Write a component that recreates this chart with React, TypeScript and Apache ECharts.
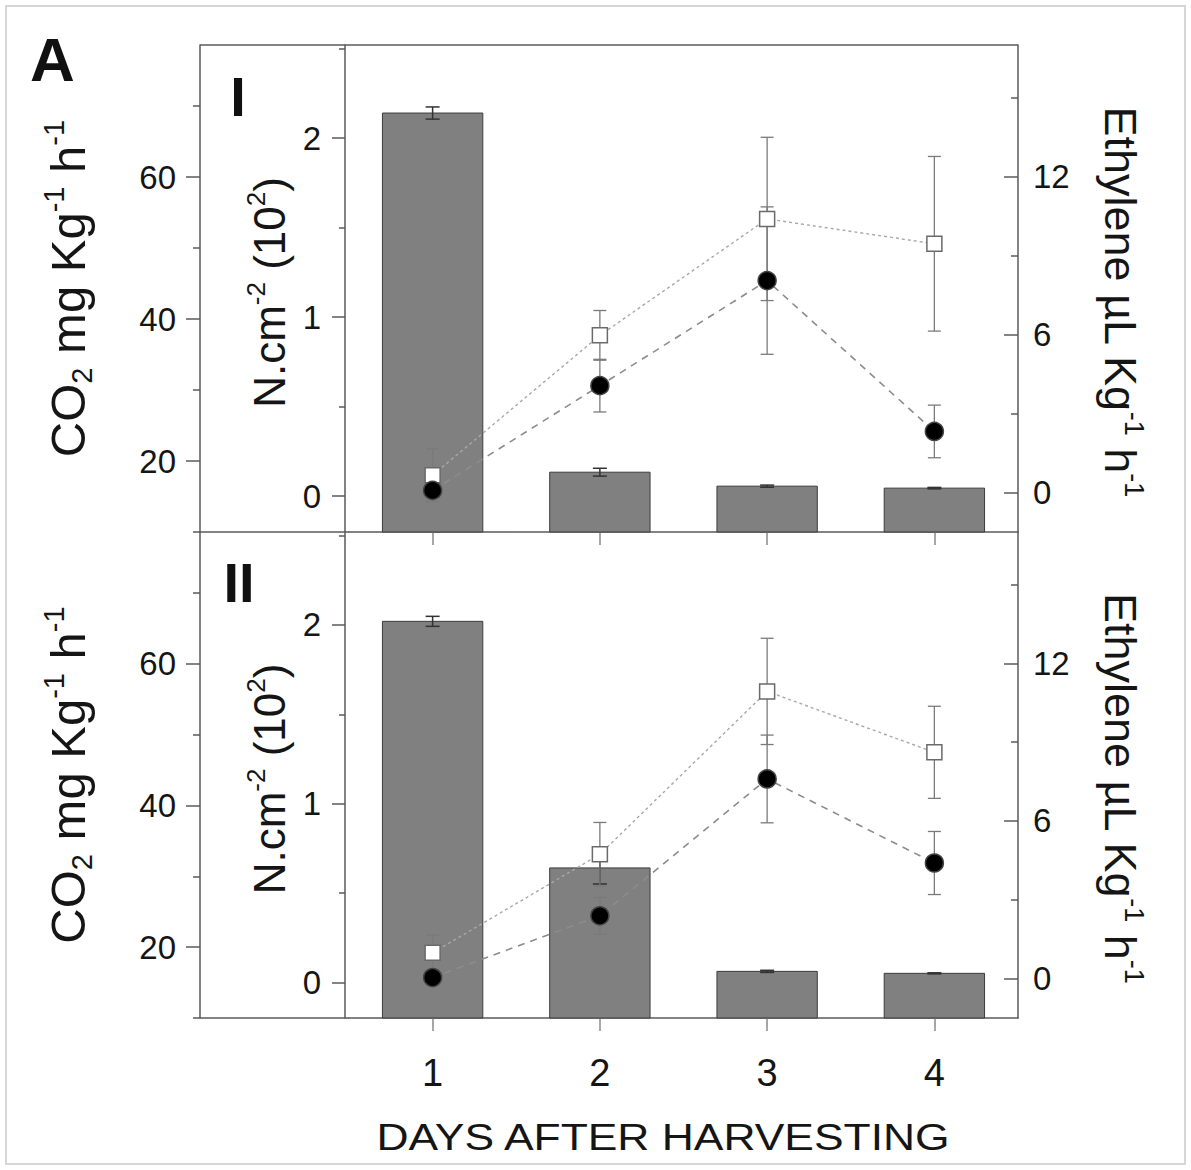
import React, { useEffect, useRef } from 'react';
import * as echarts from 'echarts';

// ---------- data ----------
const days = ['1', '2', '3', '4'];

// Panel I
const firmI = [2.14, 0.134, 0.056, 0.045];
const firmErrI = [0.034, 0.022, 0.006, 0.004];
const co2I = [18.0, 37.7, 54.1, 50.6];
const co2ErrI = [3.7, 3.5, 11.5, 12.3];
const ethI = [0.08, 4.06, 8.05, 2.32];
const ethErrI = [0.42, 1.0, 2.8, 1.0];

// Panel II
const firmII = [2.02, 0.64, 0.061, 0.05];
const firmErrII = [0.028, 0.09, 0.006, 0.003];
const co2II = [19.2, 33.1, 56.1, 47.5];
const co2ErrII = [2.5, 4.5, 7.5, 6.5];
const ethII = [0.04, 2.39, 7.6, 4.4];
const ethErrII = [0.3, 0.7, 1.67, 1.2];

// tick values
const co2Ticks = [20, 40, 60];
const co2Minor = [10, 30, 50, 70];
const firmTicks = [0, 1, 2];
const firmMinor = [0.5, 1.5, 2.5];
const ethTicks = [0, 6, 12];
const ethMinor = [3, 9, 15];

const panelLabels = ['I', 'II'];

// ---------- layout / style ----------
const W = 1191;
const H = 1170;
const L_OUT = 200;
const L_AX = 345;
const L_IN = 349;
const R = 1018;
const T = 45;
const MID = 532;
const B = 1018;
const FONT = "'Liberation Sans', Arial, Helvetica, sans-serif";
const AX = '#5a5a5a';
const TXT = '#151515';

const mkRich = (size: number, supSize: number) => ({
  m: { fontSize: size, fontFamily: FONT, color: TXT, lineHeight: size + 8 },
  sup: { fontSize: supSize, fontFamily: FONT, color: TXT, verticalAlign: 'top', lineHeight: supSize + 5 },
  sub: { fontSize: supSize, fontFamily: FONT, color: TXT, verticalAlign: 'bottom', lineHeight: supSize - 1 },
});

const errRender = (color: string, cap: number, width: number) => (params: any, api: any) => {
  const i = api.value(0);
  const lo = api.coord([i, api.value(1)]);
  const hi = api.coord([i, api.value(2)]);
  const h = cap / 2;
  const style = { stroke: color, lineWidth: width };
  return {
    type: 'group',
    children: [
      { type: 'line', shape: { x1: lo[0], y1: lo[1], x2: hi[0], y2: hi[1] }, style },
      { type: 'line', shape: { x1: lo[0] - h, y1: lo[1], x2: lo[0] + h, y2: lo[1] }, style },
      { type: 'line', shape: { x1: hi[0] - h, y1: hi[1], x2: hi[0] + h, y2: hi[1] }, style },
    ],
  };
};

// bars drawn from the bottom of the plot frame (as in the original figure)
const barRender = (params: any, api: any) => {
  const i = api.value(0);
  const top = api.coord([i, api.value(1)]);
  const band = api.size([1, 0])[0];
  const w = band * 0.6;
  const cs = params.coordSys;
  const bottom = cs.y + cs.height;
  return {
    type: 'rect',
    shape: { x: top[0] - w / 2, y: top[1], width: w, height: bottom - top[1] },
    style: { fill: '#808080', stroke: '#3c3c3c', lineWidth: 1 },
  };
};

const errData = (vals: number[], errs: number[]) => vals.map((v, i) => [i, v - errs[i], v + errs[i]]);

function buildOption() {
  const panels = [
    { firm: firmI, firmErr: firmErrI, co2: co2I, co2Err: co2ErrI, eth: ethI, ethErr: ethErrI },
    { firm: firmII, firmErr: firmErrII, co2: co2II, co2Err: co2ErrII, eth: ethII, ethErr: ethErrII },
  ];

  const grid = [
    { left: L_IN, width: R - L_IN, top: T, height: MID - T },
    { left: L_IN, width: R - L_IN, top: MID, height: B - MID },
  ];

  const xAxis: any[] = [0, 1].map((p) => ({
    type: 'category',
    gridIndex: p,
    data: days,
    boundaryGap: true,
    axisLine: { show: true, onZero: false, lineStyle: { color: AX, width: 1.5 } },
    axisTick: { show: true, alignWithLabel: true, length: 13, inside: false, lineStyle: { color: '#8a8a8a', width: 1.5 } },
    axisLabel: { show: p === 1, fontSize: 38, fontFamily: FONT, color: TXT, margin: 36 },
    splitLine: { show: false },
  }));

  const yAxis: any[] = [];
  const mk = (p: number, o: any) => ({
    type: 'value',
    gridIndex: p,
    splitLine: { show: false },
    ...o,
  });
  const tickFont = { fontSize: 33, fontFamily: FONT, color: TXT };
  [0, 1].forEach((p) => {
    // firmness (N.cm-2)
    yAxis.push(
      mk(p, {
        position: 'left',
        offset: L_IN - L_AX,
        min: -0.2,
        max: 2.52,
        axisLine: { show: true, lineStyle: { color: AX, width: 1.5 } },
        axisTick: { show: true, customValues: firmTicks, length: 13, lineStyle: { color: AX, width: 1.5 } },
        axisLabel: { show: true, customValues: firmTicks, ...tickFont, margin: 24 },
        name: '{m|N.cm}{sup|-2}{m| (10}{sup|2}{m|)}',
        nameLocation: 'middle',
        nameRotate: 90,
        nameGap: 50,
        nameTextStyle: { rich: mkRich(44, 26), padding: [0, 8, 0, 0] },
      })
    );
    yAxis.push(
      mk(p, {
        position: 'left',
        offset: L_IN - L_AX,
        min: -0.2,
        max: 2.52,
        axisLine: { show: false },
        axisTick: { show: true, customValues: firmMinor, length: 6, lineStyle: { color: AX, width: 1.5 } },
        axisLabel: { show: false },
      })
    );
    // CO2
    yAxis.push(
      mk(p, {
        position: 'left',
        offset: L_IN - L_OUT,
        min: 10,
        max: 78.6,
        axisLine: { show: true, lineStyle: { color: AX, width: 1.5 } },
        axisTick: { show: true, customValues: co2Ticks, length: 14, lineStyle: { color: AX, width: 1.5 } },
        axisLabel: { show: true, customValues: co2Ticks, ...tickFont, margin: 24 },
        name: '{m|CO}{sub|2}{m| mg Kg}{sup|-1}{m| h}{sup|-1}',
        nameLocation: 'middle',
        nameRotate: 90,
        nameGap: 104,
        nameTextStyle: { rich: mkRich(49, 29) },
      })
    );
    yAxis.push(
      mk(p, {
        position: 'left',
        offset: L_IN - L_OUT,
        min: 10,
        max: 78.6,
        axisLine: { show: false },
        axisTick: { show: true, customValues: co2Minor, length: 7, lineStyle: { color: AX, width: 1.5 } },
        axisLabel: { show: false },
      })
    );
    // Ethylene
    yAxis.push(
      mk(p, {
        position: 'right',
        min: -1.5,
        max: 17,
        axisLine: { show: true, lineStyle: { color: AX, width: 1.5 } },
        axisTick: { show: true, inside: true, customValues: ethTicks, length: 14, lineStyle: { color: AX, width: 1.5 } },
        axisLabel: { show: true, customValues: ethTicks, ...tickFont, margin: 15 },
        name: '{m|Ethylene µL Kg}{sup|-1}{m| h}{sup|-1}',
        nameLocation: 'middle',
        nameRotate: -90,
        nameGap: 76,
        nameTextStyle: { rich: mkRich(45, 27), padding: [0, 0, 0, 26] },
      })
    );
    yAxis.push(
      mk(p, {
        position: 'right',
        min: -1.5,
        max: 17,
        axisLine: { show: false },
        axisTick: { show: true, inside: true, customValues: ethMinor, length: 7, lineStyle: { color: AX, width: 1.5 } },
        axisLabel: { show: false },
      })
    );
  });

  const series: any[] = [];
  panels.forEach((pd, p) => {
    const yFirm = p * 6;
    const yCo2 = p * 6 + 2;
    const yEth = p * 6 + 4;
    series.push({
      type: 'custom',
      name: 'firmness',
      xAxisIndex: p,
      yAxisIndex: yFirm,
      renderItem: barRender,
      data: pd.firm.map((v, i) => [i, v]),
      encode: { x: 0, y: 1 },
      z: 1,
    });
    series.push({
      type: 'custom',
      xAxisIndex: p,
      yAxisIndex: yFirm,
      renderItem: errRender('#333333', 14, 1.5),
      data: errData(pd.firm, pd.firmErr),
      encode: { x: 0, y: [1, 2] },
      z: 2,
    });
    series.push({
      type: 'custom',
      xAxisIndex: p,
      yAxisIndex: yCo2,
      renderItem: errRender('#7a7a7a', 13, 1.3),
      data: errData(pd.co2, pd.co2Err),
      encode: { x: 0, y: [1, 2] },
      z: 3,
    });
    series.push({
      type: 'custom',
      xAxisIndex: p,
      yAxisIndex: yEth,
      renderItem: errRender('#7a7a7a', 13, 1.3),
      data: errData(pd.eth, pd.ethErr),
      encode: { x: 0, y: [1, 2] },
      z: 3,
    });
    series.push({
      type: 'line',
      name: 'CO2',
      xAxisIndex: p,
      yAxisIndex: yCo2,
      data: pd.co2,
      symbol: 'rect',
      symbolSize: 15,
      lineStyle: { color: '#a8a8a8', width: 1.4, type: [3, 3] },
      itemStyle: { color: '#ffffff', borderColor: '#6a6a6a', borderWidth: 1.5 },
      z: 4,
    });
    series.push({
      type: 'line',
      name: 'Ethylene',
      xAxisIndex: p,
      yAxisIndex: yEth,
      data: pd.eth,
      symbol: 'circle',
      symbolSize: 18,
      lineStyle: { color: '#8c8c8c', width: 1.6, type: [7, 6] },
      itemStyle: { color: '#000000', borderColor: '#444444', borderWidth: 1.5 },
      z: 4,
    });
  });

  const frameLine = { stroke: AX, lineWidth: 1.5 };
  const graphic: any[] = [
    {
      type: 'rect',
      shape: { x: 6, y: 6, width: W - 12, height: H - 12 },
      style: { fill: 'none', stroke: '#d6d6d6', lineWidth: 2 },
      z: 0,
    },
    { type: 'line', shape: { x1: L_OUT, y1: T, x2: R, y2: T }, style: frameLine },
    { type: 'line', shape: { x1: L_OUT, y1: MID, x2: L_IN, y2: MID }, style: frameLine },
    { type: 'line', shape: { x1: L_OUT, y1: B, x2: L_IN, y2: B }, style: frameLine },
    {
      type: 'text',
      left: 30,
      top: 28,
      style: { text: 'A', fontSize: 62, fontWeight: 'bold', fontFamily: FONT, fill: '#111' },
    },
    {
      type: 'text',
      x: 238,
      y: 96,
      style: { text: panelLabels[0], fontSize: 56, fontWeight: 'bold', fontFamily: FONT, fill: '#111', align: 'center', verticalAlign: 'middle' },
    },
    {
      type: 'text',
      x: 239,
      y: 582,
      style: { text: panelLabels[1], fontSize: 56, fontWeight: 'bold', fontFamily: FONT, fill: '#111', align: 'center', verticalAlign: 'middle' },
    },
    {
      type: 'text',
      x: 663,
      y: 1137,
      scaleX: 1.2,
      style: { text: 'DAYS AFTER HARVESTING', fontSize: 37, fontFamily: FONT, fill: TXT, align: 'center', verticalAlign: 'middle' },
    },
  ];

  return {
    animation: false,
    backgroundColor: '#ffffff',
    grid,
    xAxis,
    yAxis,
    series,
    graphic,
  };
}

export default function App() {
  const ref = useRef<HTMLDivElement>(null);
  useEffect(() => {
    if (!ref.current) return;
    const chart = echarts.init(ref.current, undefined, { renderer: 'svg', width: W, height: H });
    chart.setOption(buildOption() as any);
    return () => chart.dispose();
  }, []);
  return (
    <div
      ref={ref}
      style={{ position: 'absolute', left: 0, top: 0, width: W, height: H, background: '#fff' }}
    />
  );
}
